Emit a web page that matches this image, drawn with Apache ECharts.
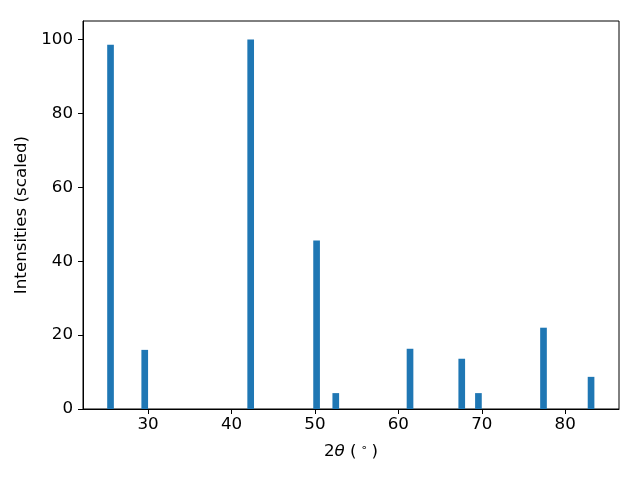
<!DOCTYPE html>
<html>
<head>
<meta charset="utf-8">
<script src="https://cdn.jsdelivr.net/npm/echarts@6/dist/echarts.min.js"></script>
<style>html,body{margin:0;padding:0;background:#fff}#c{width:640px;height:480px}</style>
</head>
<body>
<div id="c"></div>
<script>
var positions = [25.5, 29.6, 42.3, 50.2, 52.5, 61.4, 67.6, 69.6, 77.4, 83.1];
var intensities = [98.6, 16.0, 100.0, 45.6, 4.3, 16.3, 13.6, 4.3, 22.0, 8.7];
var xTicks = [30, 40, 50, 60, 70, 80];
var yTicks = [0, 20, 40, 60, 80, 100];
var barWidthData = 0.8;

var chart = echarts.init(document.getElementById('c'), null, {renderer: 'canvas'});
var font = 'DejaVu Sans';
var fs = 16.7;
chart.setOption({
  animation: false,
  backgroundColor: '#fff',
  grid: {left: 83, right: 21, top: 21, bottom: 71, show: true, borderColor: '#000', borderWidth: 1, backgroundColor: 'transparent'},
  xAxis: {
    type: 'value', min: 22.2, max: 86.45,
    splitLine: {show: false},
    axisLine: {show: true, onZero: false, lineStyle: {color: '#000', width: 1}},
    axisTick: {show: true, length: 5, lineStyle: {color: '#000'}, customValues: xTicks},
    axisLabel: {color: '#000', fontFamily: font, fontSize: fs, margin: 7, customValues: xTicks},
    name: '{n|2}{i|θ}{n| (}{s|∘}{n|)}',
    nameLocation: 'middle', nameGap: 34,
    nameTextStyle: {
      color: '#000', fontFamily: font, fontSize: fs,
      rich: {
        n: {fontFamily: font, fontSize: fs, color: '#000'},
        i: {fontFamily: font, fontSize: fs, fontStyle: 'italic', color: '#000'},
        s: {fontFamily: font, fontSize: 11, color: '#000', verticalAlign: 'top', padding: [0, 4, 7, 4]}
      }
    }
  },
  yAxis: {
    type: 'value', min: 0, max: 105,
    splitLine: {show: false},
    axisLine: {show: true, lineStyle: {color: '#000', width: 1}},
    axisTick: {show: true, length: 5, lineStyle: {color: '#000'}, customValues: yTicks},
    axisLabel: {color: '#000', fontFamily: font, fontSize: fs, margin: 10, customValues: yTicks},
    name: 'Intensities (scaled)', nameLocation: 'middle', nameGap: 45,
    nameTextStyle: {color: '#000', fontFamily: font, fontSize: fs}
  },
  series: [{
    type: 'custom',
    data: positions.map(function (p, i) { return [p, intensities[i]]; }),
    renderItem: function (params, api) {
      var x = api.value(0), y = api.value(1);
      var p0 = api.coord([x - barWidthData / 2, y]);
      var p1 = api.coord([x + barWidthData / 2, 0]);
      return {
        type: 'rect',
        shape: {x: p0[0], y: p0[1], width: p1[0] - p0[0], height: p1[1] - p0[1]},
        style: {fill: '#1f77b4'}
      };
    }
  }]
});
</script>
</body>
</html>
